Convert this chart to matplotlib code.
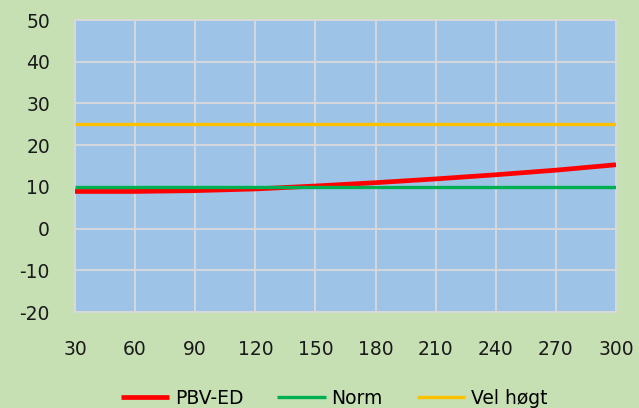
import numpy as np
import matplotlib.pyplot as plt

plt.rcParams["axes.unicode_minus"] = False

# data
x_vals = [30, 60, 90, 120, 150, 180, 210, 240, 270, 300]
pbv_ed = [8.9, 8.9, 9.1, 9.5, 10.2, 11.0, 11.9, 12.9, 14.0, 15.3]
norm = [10, 10, 10, 10, 10, 10, 10, 10, 10, 10]
vel_hogt = [25, 25, 25, 25, 25, 25, 25, 25, 25, 25]
x_ticks = [30, 60, 90, 120, 150, 180, 210, 240, 270, 300]
y_ticks = [-20, -10, 0, 10, 20, 30, 40, 50]

fig = plt.figure(figsize=(6.39, 4.08), dpi=100, facecolor="#C6E0B4")
ax = fig.add_axes([75/639, 1 - 312/408, 541/639, 292/408])
ax.set_facecolor("#9DC3E6")

ax.plot(x_vals, pbv_ed, color="#FF0000", lw=3.4, label="PBV-ED", zorder=3,
        solid_capstyle="butt")
ax.plot(x_vals, norm, color="#00B050", lw=2.4, label="Norm", zorder=4,
        solid_capstyle="butt")
ax.plot(x_vals, vel_hogt, color="#FFC000", lw=2.4, label="Vel høgt", zorder=4,
        solid_capstyle="butt")

ax.set_xlim(30, 300)
ax.set_ylim(-20, 50)
ax.set_xticks(x_ticks)
ax.set_yticks(y_ticks)
ax.grid(True, color="#D9D9D9", lw=1.3)
ax.set_axisbelow(True)
for s in ax.spines.values():
    s.set_color("#D9D9D9")
    s.set_linewidth(1.3)
ax.tick_params(length=0, labelsize=13.5, colors="#1a1a1a")
ax.tick_params(axis="x", pad=20)
ax.tick_params(axis="y", pad=18)

ax.legend(loc="center", bbox_to_anchor=(334/639, 1 - 398/408),
          bbox_transform=fig.transFigure, ncol=3, frameon=False,
          fontsize=13.5, handlelength=2.6, columnspacing=1.8,
          handletextpad=0.3)

fig.savefig("out.png", dpi=100, facecolor=fig.get_facecolor())
